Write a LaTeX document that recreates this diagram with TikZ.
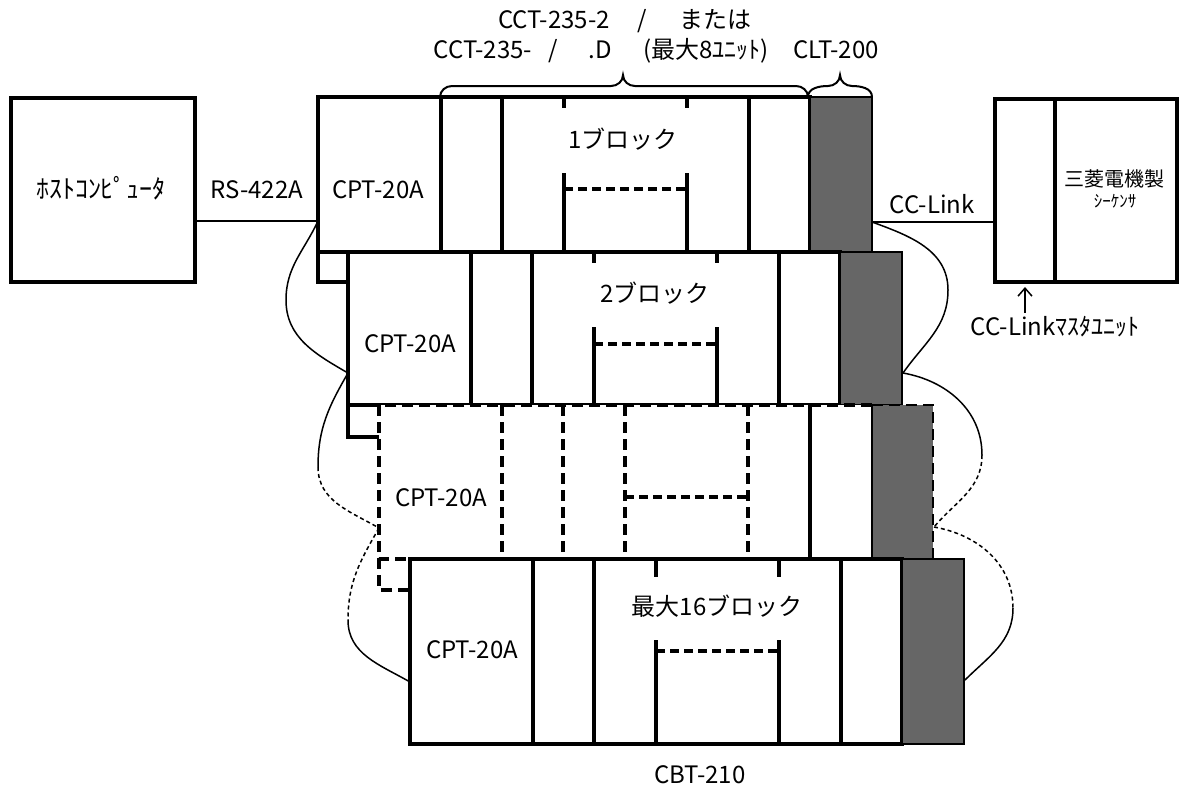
\documentclass[tikz,border=0pt]{standalone}
\usepackage{fontspec}
\setmainfont{Noto Sans CJK JP}
\usetikzlibrary{arrows.meta}
\definecolor{cltgray}{HTML}{666666}
\tikzset{
  blkline/.style={line width=2pt, line join=miter},
  blkdash/.style={line width=2pt, dash pattern=on 5.5pt off 3pt},
  innerdash/.style={line width=2pt, dash pattern=on 4.5pt off 2.5pt},
  darkbox/.style={fill=cltgray, draw=black, line width=1pt},
  cable/.style={line width=0.75pt},
  cabledash/.style={line width=0.75pt, dash pattern=on 2pt off 1.5pt},
  bracepath/.style={line width=1pt},
  lbl/.style={inner sep=0pt, anchor=base, font=\fontsize{12}{14}\selectfont},
  box/.style={draw, line width=2pt, inner sep=0pt},
}
% #1 L, #2 T, #3 B, #4 ext bottom, #5 next L, #6 tick end, #7 lower start, #8 dash y
\newcommand\solidunit[8]{%
  \fill[white] (#1,#2) rectangle (#5,#4);
  \draw[blkline] (#1,#2) -- (#1,#4) -- (#5,#4);
  \draw[blkline,fill=white] (#1,#2) rectangle (#1+492,#3);
  \foreach \dx in {123,184,431}{\draw[blkline] (#1+\dx,#2) -- (#1+\dx,#3);}
  \foreach \dx in {246,369}{\draw[blkline] (#1+\dx,#2) -- (#1+\dx,#6);
    \draw[blkline] (#1+\dx,#7) -- (#1+\dx,#3);}
  \draw[innerdash] (#1+246,#8) -- (#1+369,#8);
  \draw[darkbox] (#1+492,#2) rectangle (#1+554,#3);
}
% #1 L, #2 T, #3 B, #4 ext bottom, #5 next L, #6 dash y
\newcommand\dashunit[6]{%
  \fill[white] (#1,#2) rectangle (#5,#4);
  \draw[blkdash] (#1,#2) -- (#1,#4) -- (#5,#4);
  \fill[white] (#1,#2) rectangle (#1+493,#3);
  \draw[blkdash] (#1+493,#2) -- (#1,#2) -- (#1,#3) -- (#1+493,#3);
  \foreach \dx in {123,184,246,369}{\draw[blkdash] (#1+\dx,#2) -- (#1+\dx,#3);}
  \draw[blkline] (#1+431,#2) -- (#1+431,#3);
  \draw[innerdash] (#1+246,#6) -- (#1+369,#6);
  \fill[cltgray] (#1+493,#2) rectangle (#1+554,#3);
  \draw[line width=1.3pt, dash pattern=on 5.5pt off 3pt] (#1+493,#2) -- (#1+554,#2) -- (#1+554,#3);
  \draw[line width=1.3pt] (#1+493,#2) -- (#1+493,#3);
}
\begin{document}
\begin{tikzpicture}[x=0.5pt,y=-0.5pt]
\useasboundingbox (0,0) rectangle (1179,789);
\fill[white] (0,0) rectangle (1179,789);

% host computer
\node[box, minimum width=92pt, minimum height=92pt] (host) at (102.6,190) {};
\node[lbl, font=\fontsize{13}{15}\selectfont] (hostlbl) at (101,198) {ﾎｽﾄｺﾝﾋﾟｭｰﾀ};

% sequencer with master unit
\node[box, minimum width=30pt, minimum height=91.5pt] (mst) at (1025,190.5) {};
\node[box, minimum width=61pt, minimum height=91.5pt] (seq) at (1116,190.5) {};
\node[lbl, font=\fontsize{10}{12}\selectfont] (seqlbl1) at (1114,186) {三菱電機製};
\node[lbl, font=\fontsize{8.5}{10}\selectfont] (seqlbl2) at (1115,207) {ｼｰｹﾝｻ};

% blocks
\solidunit{318}{97}{252}{282}{348}{108}{173}{189}
\solidunit{348}{252}{405}{437}{379}{263}{327}{344}
\dashunit{379}{405}{559}{590}{410}{497}
\solidunit{410}{559}{744}{744}{410}{577}{640}{651}

% block labels
\node[lbl] (cpt1) at (378,198) {CPT-20A};
\node[lbl] (cpt2) at (410,352) {CPT-20A};
\node[lbl] (cpt3) at (441,506) {CPT-20A};
\node[lbl] (cpt4) at (472,658) {CPT-20A};
\node[lbl] (blk1) at (623,148) {1ブロック};
\node[lbl] (blk2) at (655,302) {2ブロック};
\node[lbl] (blk4) at (717,615) {最大16ブロック};
\node[lbl] (cbt) at (700,783) {CBT-210};

% braces
\draw[bracepath] (440,97) to[out=90,in=180] (452,86) -- (611,86)
  to[out=0,in=-90] (623,75) to[out=-90,in=180] (635,86) -- (796,86)
  to[out=0,in=90] (808,97);
\draw[bracepath] (808,97) to[out=90,in=180] (828,86) to[out=0,in=-90] (840,75)
  to[out=-90,in=180] (852,86) to[out=0,in=90] (872,97);

% top labels
\node[lbl] (t1a) at (554,28) {CCT-235-2};
\node[lbl] (t1b) at (642,28) {/};
\node[lbl] (t1c) at (715,28) {または};
\node[lbl] (t2a) at (483,58) {CCT-235-};
\node[lbl] (t2b) at (553,58) {/};
\node[lbl] (t2c) at (600,58) {.D};
\node[lbl] (t2d) at (706,58) {(最大8ﾕﾆｯﾄ)};
\node[lbl] (t2e) at (836,58) {CLT-200};

% connection labels
\node[lbl] (rslbl) at (257,198) {RS-422A};
\node[lbl] (cclbl) at (932,213) {CC-Link};
\node[lbl] (mstlbl) at (1055,335) {CC-Linkﾏｽﾀﾕﾆｯﾄ};

% coordinates for cables
\coordinate (rsB) at (318,221);
\coordinate (l1) at (286,300);
\coordinate (b2l) at (348,373);
\coordinate (l2) at (318,467);
\coordinate (b3l) at (379,528);
\coordinate (l3) at (348,620);
\coordinate (b4l) at (410,682);
\coordinate (ccA) at (872,222);
\coordinate (r1) at (948,290);
\coordinate (b2r) at (903,373);
\coordinate (r2) at (982,455);
\coordinate (b3r) at (934,527);
\coordinate (r3) at (1013,608);
\coordinate (b4r) at (965,680);
\coordinate (arrS) at (1025,313);

\draw[cable] (host.east |- rsB) -- (rsB);
\draw[cable] (ccA) -- (mst.west |- ccA);
\draw[cable] (rsB) to[out=-115,in=90] (l1) to[out=-90,in=150] (b2l);
\draw[cable] (b2l) to[out=-120,in=90] (l2);
\draw[cabledash] (l2) to[out=-90,in=150] (b3l);
\draw[cabledash] (b3l) to[out=-120,in=90] (l3);
\draw[cable] (l3) to[out=-90,in=150] (b4l);
\draw[cable] (ccA) to[out=-20,in=90] (r1) to[out=-90,in=55] (b2r);
\draw[cable] (b2r) to[out=-10,in=90] (r2);
\draw[cabledash] (r2) to[out=-90,in=50] (b3r);
\draw[cabledash] (b3r) to[out=-10,in=90] (r3);
\draw[cable] (r3) to[out=-90,in=45] (b4r);
\draw[cable, -{Straight Barb[length=4pt,width=7pt]}, shorten >=1.5pt] (arrS) -- (mst.south);
\end{tikzpicture}
\end{document}
